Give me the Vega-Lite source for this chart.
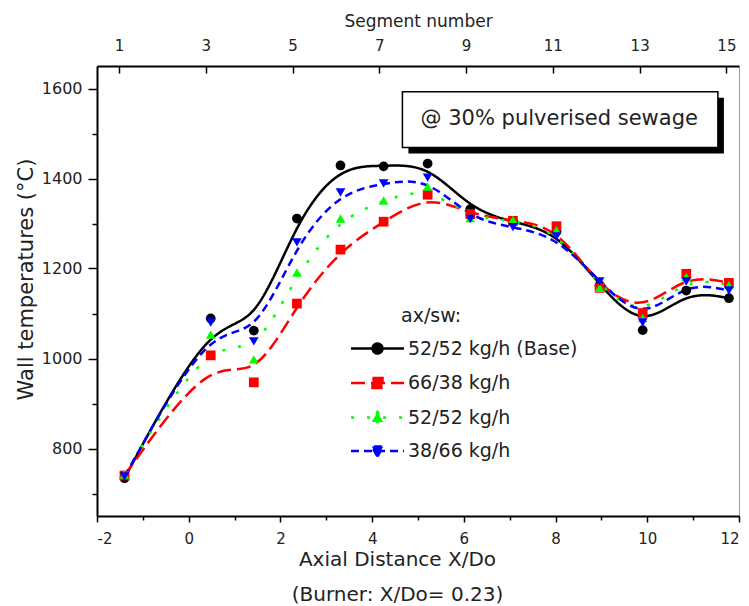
{
  "$schema": "https://vega.github.io/schema/vega-lite/v6.json",
  "width": 642,
  "height": 450,
  "autosize": {"type": "none"},
  "padding": {"left": 97, "top": 66, "right": 10, "bottom": 90},
  "background": "white",
  "config": {
    "font": "DejaVu Sans",
    "view": {"stroke": "#999999", "strokeWidth": 1},
    "axis": {
      "domainColor": "#000000",
      "domainWidth": 2,
      "tickColor": "#000000",
      "tickWidth": 1.5,
      "labelColor": "#222222",
      "titleColor": "#222222",
      "grid": false,
      "labelFont": "DejaVu Sans",
      "titleFont": "DejaVu Sans",
      "titleFontWeight": "normal"
    },
    "legend": {
      "labelFont": "DejaVu Sans",
      "titleFont": "DejaVu Sans",
      "labelColor": "#222222",
      "titleColor": "#222222"
    }
  },
  "datasets": {
    "temps": [
      {"series": "52/52 kg/h (Base)", "x": -1.40, "T": 734},
      {"series": "52/52 kg/h (Base)", "x": 0.48, "T": 1089},
      {"series": "52/52 kg/h (Base)", "x": 1.42, "T": 1062},
      {"series": "52/52 kg/h (Base)", "x": 2.36, "T": 1311},
      {"series": "52/52 kg/h (Base)", "x": 3.31, "T": 1429},
      {"series": "52/52 kg/h (Base)", "x": 4.25, "T": 1427},
      {"series": "52/52 kg/h (Base)", "x": 5.21, "T": 1433},
      {"series": "52/52 kg/h (Base)", "x": 6.14, "T": 1332},
      {"series": "52/52 kg/h (Base)", "x": 7.07, "T": 1303},
      {"series": "52/52 kg/h (Base)", "x": 8.02, "T": 1282},
      {"series": "52/52 kg/h (Base)", "x": 8.96, "T": 1163},
      {"series": "52/52 kg/h (Base)", "x": 9.90, "T": 1063},
      {"series": "52/52 kg/h (Base)", "x": 10.85, "T": 1151},
      {"series": "52/52 kg/h (Base)", "x": 11.78, "T": 1134},
      {"series": "66/38 kg/h", "x": -1.40, "T": 740},
      {"series": "66/38 kg/h", "x": 0.48, "T": 1007},
      {"series": "66/38 kg/h", "x": 1.42, "T": 947},
      {"series": "66/38 kg/h", "x": 2.36, "T": 1122},
      {"series": "66/38 kg/h", "x": 3.31, "T": 1242},
      {"series": "66/38 kg/h", "x": 4.25, "T": 1304},
      {"series": "66/38 kg/h", "x": 5.21, "T": 1364},
      {"series": "66/38 kg/h", "x": 6.14, "T": 1321},
      {"series": "66/38 kg/h", "x": 7.07, "T": 1306},
      {"series": "66/38 kg/h", "x": 8.02, "T": 1294},
      {"series": "66/38 kg/h", "x": 8.96, "T": 1157},
      {"series": "66/38 kg/h", "x": 9.90, "T": 1101},
      {"series": "66/38 kg/h", "x": 10.85, "T": 1188},
      {"series": "66/38 kg/h", "x": 11.78, "T": 1168},
      {"series": "52/52 kg/h", "x": -1.40, "T": 742},
      {"series": "52/52 kg/h", "x": 0.48, "T": 1053},
      {"series": "52/52 kg/h", "x": 1.42, "T": 998},
      {"series": "52/52 kg/h", "x": 2.36, "T": 1191},
      {"series": "52/52 kg/h", "x": 3.31, "T": 1311},
      {"series": "52/52 kg/h", "x": 4.25, "T": 1351},
      {"series": "52/52 kg/h", "x": 5.21, "T": 1382},
      {"series": "52/52 kg/h", "x": 6.14, "T": 1312},
      {"series": "52/52 kg/h", "x": 7.07, "T": 1308},
      {"series": "52/52 kg/h", "x": 8.02, "T": 1285},
      {"series": "52/52 kg/h", "x": 8.96, "T": 1157},
      {"series": "52/52 kg/h", "x": 9.90, "T": 1090},
      {"series": "52/52 kg/h", "x": 10.85, "T": 1181},
      {"series": "52/52 kg/h", "x": 11.78, "T": 1163},
      {"series": "38/66 kg/h", "x": -1.40, "T": 738},
      {"series": "38/66 kg/h", "x": 0.48, "T": 1080},
      {"series": "38/66 kg/h", "x": 1.42, "T": 1038},
      {"series": "38/66 kg/h", "x": 2.36, "T": 1258},
      {"series": "38/66 kg/h", "x": 3.31, "T": 1369},
      {"series": "38/66 kg/h", "x": 4.25, "T": 1389},
      {"series": "38/66 kg/h", "x": 5.21, "T": 1402},
      {"series": "38/66 kg/h", "x": 6.14, "T": 1310},
      {"series": "38/66 kg/h", "x": 7.07, "T": 1292},
      {"series": "38/66 kg/h", "x": 8.02, "T": 1271},
      {"series": "38/66 kg/h", "x": 8.96, "T": 1171},
      {"series": "38/66 kg/h", "x": 9.90, "T": 1080},
      {"series": "38/66 kg/h", "x": 10.85, "T": 1171},
      {"series": "38/66 kg/h", "x": 11.78, "T": 1151}
    ]
  },
  "layer": [
    {
      "layer": [
        {
          "data": {"name": "temps"},
          "mark": {"type": "line", "interpolate": "basis", "strokeWidth": 2.5},
          "encoding": {
            "x": {
              "field": "x", "type": "quantitative",
              "scale": {"domain": [-2, 12], "nice": false, "zero": false},
              "axis": {
                "title": ["Axial Distance X/Do", "(Burner: X/Do= 0.23)"],
                "values": [-2, -1, 0, 1, 2, 3, 4, 5, 6, 7, 8, 9, 10, 11, 12],
                "labelExpr": "datum.value % 2 === 0 ? (datum.value < 0 ? '-' + abs(datum.value) : '' + datum.value) : ''",
                "tickSize": {"condition": {"test": "datum.value % 2 === 0", "value": 6}, "value": 4},
                "labelFontSize": 15,
                "labelPadding": 9,
                "titleFontSize": 20,
                "titleLineHeight": 35,
                "titlePadding": 3,
                "titleX": 300
              }
            },
            "y": {
              "field": "T", "type": "quantitative",
              "scale": {"domain": [650, 1650], "nice": false, "zero": false},
              "axis": {
                "title": "Wall temperatures (°C)",
                "values": [700, 800, 900, 1000, 1100, 1200, 1300, 1400, 1500, 1600],
                "format": "d",
                "labelExpr": "datum.value % 200 === 0 ? datum.label : ''",
                "tickSize": {"condition": {"test": "datum.value % 200 === 0", "value": 9}, "value": 5},
                "labelFontSize": 16,
                "labelPadding": 6,
                "titleFontSize": 21,
                "titlePadding": 5,
                "titleY": 213
              }
            },
            "color": {
              "field": "series", "type": "nominal",
              "scale": {
                "domain": ["52/52 kg/h (Base)", "66/38 kg/h", "52/52 kg/h", "38/66 kg/h"],
                "range": ["#000000", "#ff0000", "#00ff00", "#0000ff"]
              },
              "legend": {
                "orient": "none",
                "legendX": 271,
                "legendY": 241,
                "title": "ax/sw:",
                "padding": 0,
                "symbolSize": 100,
                "symbolStrokeWidth": 2.5,
                "labelFontSize": 19,
                "labelLimit": 300,
                "titleFontSize": 19,
                "titleFontWeight": "normal",
                "labelOffset": 21,
                "rowPadding": 13.5,
                "titlePadding": 13,
                "encode": {
                  "symbols": {
                    "update": {
                      "shape": {"signal": "datum.value === '52/52 kg/h (Base)' ? 'M-5.3,0H5.3M-1,0A1,1 0 1,0 1,0A1,1 0 1,0 -1,0Z' : datum.value === '66/38 kg/h' ? 'M-5.3,0H5.3M-1,-1H1V1H-1Z' : datum.value === '52/52 kg/h' ? 'M-5.3,0H5.3M0,-1.1L1.15,0.9H-1.15Z' : 'M-5.3,0H5.3M0,1.1L1.15,-0.9H-1.15Z'"},
                      "fill": {"signal": "scale('color', datum.value)"},
                      "stroke": {"signal": "scale('color', datum.value)"},
                      "strokeDash": {"signal": "scale('strokeDash', datum.value)"},
                      "strokeWidth": {"value": 2.5}
                    }
                  },
                  "title": {"update": {"dx": {"value": 33}}}
                }
              }
            },
            "strokeDash": {
              "field": "series", "type": "nominal",
              "scale": {
                "domain": ["52/52 kg/h (Base)", "66/38 kg/h", "52/52 kg/h", "38/66 kg/h"],
                "range": [[1, 0], [14, 6], [3, 13], [8, 5]]
              },
              "legend": null
            }
          }
        },
        {
          "data": {"name": "temps"},
          "transform": [{"filter": "datum.series === '52/52 kg/h (Base)'"}],
          "mark": {"type": "point", "filled": true, "size": 95, "opacity": 1, "shape": "circle", "color": "#000000"},
          "encoding": {
            "x": {"field": "x", "type": "quantitative"},
            "y": {"field": "T", "type": "quantitative"}
          }
        },
        {
          "data": {"name": "temps"},
          "transform": [{"filter": "datum.series === '66/38 kg/h'"}],
          "mark": {"type": "point", "filled": true, "size": 95, "opacity": 1, "shape": "square", "color": "#ff0000"},
          "encoding": {
            "x": {"field": "x", "type": "quantitative"},
            "y": {"field": "T", "type": "quantitative"}
          }
        },
        {
          "data": {"name": "temps"},
          "transform": [{"filter": "datum.series === '52/52 kg/h'"}],
          "mark": {"type": "point", "filled": true, "size": 95, "opacity": 1, "shape": "triangle-up", "color": "#00ff00"},
          "encoding": {
            "x": {"field": "x", "type": "quantitative"},
            "y": {"field": "T", "type": "quantitative"}
          }
        },
        {
          "data": {"name": "temps"},
          "transform": [{"filter": "datum.series === '38/66 kg/h'"}],
          "mark": {"type": "point", "filled": true, "size": 95, "opacity": 1, "shape": "triangle-down", "color": "#0000ff"},
          "encoding": {
            "x": {"field": "x", "type": "quantitative"},
            "y": {"field": "T", "type": "quantitative"}
          }
        },
        {
          "data": {"values": [{}]},
          "mark": {"type": "rect", "fill": "#000000", "xOffset": 6, "x2Offset": 6, "yOffset": 6, "y2Offset": 6},
          "encoding": {
            "x": {"datum": 4.66, "type": "quantitative"},
            "x2": {"datum": 11.54},
            "y": {"datum": 1593, "type": "quantitative"},
            "y2": {"datum": 1469}
          }
        },
        {
          "data": {"values": [{}]},
          "mark": {"type": "rect", "fill": "#ffffff", "stroke": "#000000", "strokeWidth": 1.5},
          "encoding": {
            "x": {"datum": 4.66, "type": "quantitative"},
            "x2": {"datum": 11.54},
            "y": {"datum": 1593, "type": "quantitative"},
            "y2": {"datum": 1469}
          }
        },
        {
          "data": {"values": [{}]},
          "mark": {"type": "text", "text": "@ 30% pulverised sewage", "fontSize": 21, "font": "DejaVu Sans", "color": "#222222", "align": "center", "baseline": "middle"},
          "encoding": {
            "x": {"datum": 8.08, "type": "quantitative"},
            "y": {"datum": 1532, "type": "quantitative"}
          }
        }
      ]
    },
    {
      "data": {"values": [{}]},
      "mark": {"type": "rule", "opacity": 0},
      "encoding": {
        "x": {
          "datum": 1, "type": "quantitative",
          "scale": {"domain": [0.493, 15.29], "nice": false, "zero": false},
          "axis": {
            "orient": "top",
            "title": "Segment number",
            "values": [1, 3, 5, 7, 9, 11, 13, 15],
            "format": "d",
            "tickSize": -7,
            "labelPadding": 20,
            "labelFontSize": 15,
            "titleFontSize": 17,
            "titlePadding": 8
          }
        }
      }
    }
  ],
  "resolve": {"scale": {"x": "independent"}}
}
